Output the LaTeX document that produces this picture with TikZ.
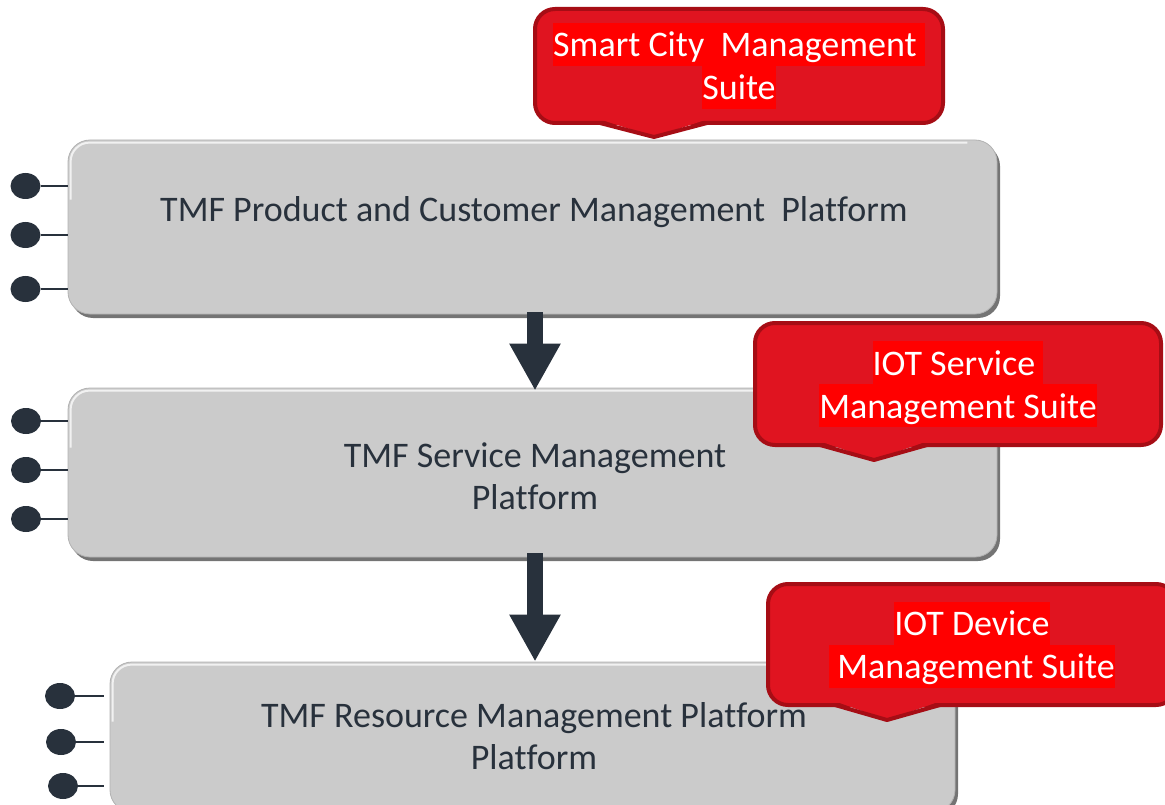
\documentclass[tikz,border=0pt]{standalone}
\usepackage{fontspec}
\setmainfont{Carlito}[Ligatures=NoCommon]
\usetikzlibrary{arrows.meta,shadows,calc,shapes.geometric}
\definecolor{boxgray}{HTML}{CBCBCB}
\definecolor{edgegray}{HTML}{747474}
\definecolor{ink}{HTML}{28313C}
\definecolor{cfill}{HTML}{E01420}
\definecolor{cedge}{HTML}{A60D15}
\definecolor{hlred}{HTML}{FF0000}
\newcommand\hlline[1]{{\setlength{\fboxsep}{0pt}\colorbox{hlred}{\rule[-9pt]{0pt}{43pt}#1}}}
\begin{document}
\begin{tikzpicture}[x=1pt,y=-1pt,
  platform/.style={draw=black!30, line width=0.8pt, fill=boxgray, rounded corners=22pt,
    inner sep=0pt, drop shadow={shadow xshift=3pt, shadow yshift=-4pt, fill=edgegray, opacity=1}},
  hilite/.style={draw=white, line width=2pt, opacity=0.75, rounded corners=19pt},
  ptext/.style={text=ink, font=\fontsize{36}{42}\selectfont, align=center, inner sep=0pt},
  callout/.style={draw=cedge, line width=4pt, fill=cfill, rounded corners=20pt,
    inner sep=0pt, text=white, font=\fontsize{36}{43}\selectfont, align=center},
  pointerfill/.style={fill=cfill},
  pointeredge/.style={draw=cedge, line width=4pt, line join=round},
  dot/.style={ellipse, fill=ink, minimum width=30pt, minimum height=26pt, inner sep=0pt},
  wire/.style={draw=ink, line width=1.6pt},
  flow/.style={draw=ink, line width=16pt, -{Triangle[width=48pt,length=47pt]}}
]
\useasboundingbox (0,0) rectangle (1165,805);
\clip (0,0) rectangle (1165,805);

% platforms (boxes)
\node[platform, minimum width=929pt, minimum height=174pt] (b1) at (532.5,227) {};
\node[platform, minimum width=929pt, minimum height=169pt] (b2) at (532.5,472.5) {};
\node[platform, minimum width=845pt, minimum height=150pt] (b3) at (532.5,737) {};

% highlights
\foreach \b in {b1,b2,b3}{
  \draw[hilite] ($(\b.north west)+(3,60)$) |- ($(\b.north east)+(-30,3)$);
}

% flow arrows
\draw[flow] ([xshift=2.5pt,yshift=2pt]b1.south) -- ([xshift=2.5pt,yshift=-3pt]b2.north);
\draw[flow] ([xshift=2.5pt,yshift=4pt]b2.south) -- ([xshift=2.5pt]b3.north);

% texts
\node[ptext] (t1) at (534,212) {TMF Product and Customer Management\ \ Platform};
\node[ptext] (t2) at (535,476) {TMF Service Management\\Platform};
\node[ptext] (t3) at (534,736.5) {TMF Resource Management Platform\\Platform};

% dots and wires
\foreach \y [count=\i] in {186,235,289}{
  \node[dot] (d1\i) at (25.5,\y) {};
  \draw[wire] (d1\i.east) -- (d1\i -| b1.west);
}
\foreach \y [count=\i] in {421,470,519}{
  \node[dot] (d2\i) at (26,\y) {};
  \draw[wire] (d2\i.east) -- (d2\i -| b2.west);
}
\foreach \x/\y [count=\i] in {60/696,61/742,63/786}{
  \node[dot] (d3\i) at (\x,\y) {};
  \draw[wire, shorten >=6pt] (d3\i.east) -- (d3\i -| b3.west);
}

% callouts
\node[callout, minimum width=408pt, minimum height=114pt] (c1) at (739,66)
  {\hlline{Smart City\ \ Management\ }\\\hlline{Suite}};
\fill[pointerfill] (602,120) -- (705,120) -- (654,137) -- cycle;
\draw[pointeredge] (600,123) -- (654,137) -- (707,123);

\node[callout, minimum width=406pt, minimum height=122pt] (c2) at (958,384)
  {\hlline{IOT Service\ }\\\hlline{Management Suite}};
\fill[pointerfill] (822,442) -- (925,442) -- (874,460) -- cycle;
\draw[pointeredge] (820,445) -- (874,460) -- (927,445);

\node[callout, minimum width=408pt, minimum height=121pt] (c3) at (972,644.5)
  {\hlline{IOT Device}\\\hlline{\ Management Suite}};
\fill[pointerfill] (837,702) -- (938,702) -- (887,720) -- cycle;
\draw[pointeredge] (835,705) -- (887,720) -- (940,705);
\end{tikzpicture}
\end{document}
